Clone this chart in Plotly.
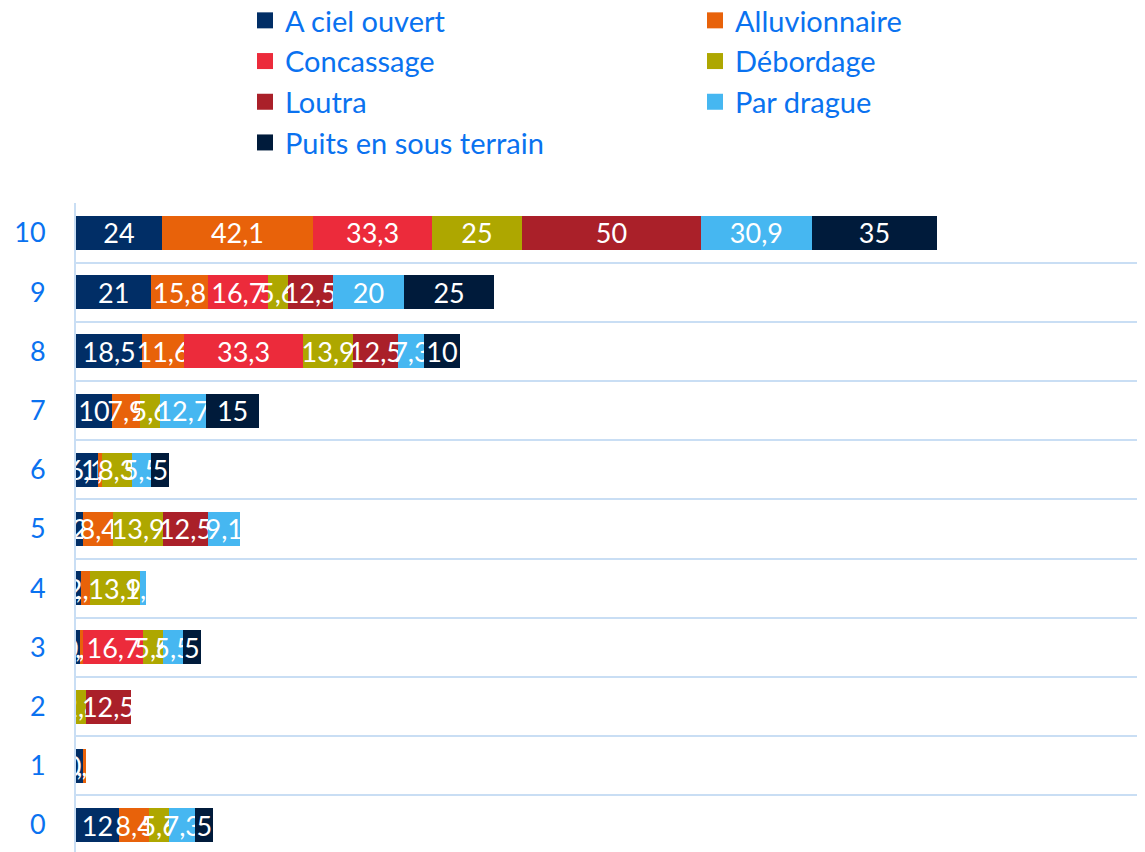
import plotly.graph_objects as go

categories = [0, 1, 2, 3, 4, 5, 6, 7, 8, 9, 10]

series_names = ["A ciel ouvert", "Alluvionnaire", "Concassage", "Débordage",
                "Loutra", "Par drague", "Puits en sous terrain"]

a_ciel_ouvert = [12, 1.9, None, 1.1, 1.4, 2, 6.1, 10, 18.5, 21, 24]
alluvionnaire = [8.4, 0.9, None, 0.9, 2.5, 8.4, 1.1, 7.9, 11.6, 15.8, 42.1]
concassage = [None, None, None, 16.7, None, None, None, None, 33.3, 16.7, 33.3]
debordage = [5.6, None, 2.8, 5.6, 13.9, 13.9, 8.3, 5.6, 13.9, 5.6, 25]
loutra = [None, None, 12.5, None, None, 12.5, None, None, 12.5, 12.5, 50]
par_drague = [7.3, None, None, 5.5, 1.8, 9.1, 5.5, 12.7, 7.3, 20, 30.9]
puits = [5, None, None, 5, None, None, 5, 15, 10, 25, 35]

colors = ["#012e66", "#e8620a", "#ec2b3b", "#aea700", "#aa2029", "#46b7f1", "#001b3b"]

values = [a_ciel_ouvert, alluvionnaire, concassage, debordage, loutra, par_drague, puits]

def fmt(v):
    if v is None:
        return ""
    return ("%g" % v).replace(".", ",")

fig = go.Figure()
for name, vals, col in zip(series_names, values, colors):
    fig.add_trace(go.Bar(
        y=categories, x=vals, orientation="h", name=name,
        marker=dict(color=col, line=dict(width=0)),
        text=[fmt(v) for v in vals], textposition="inside",
        insidetextanchor="middle", textangle=0, constraintext="none",
        textfont=dict(color="white", size=27, family="Lato"),
        showlegend=False, cliponaxis=False,
    ))
# legend entries with square markers
for name, col in zip(series_names, colors):
    fig.add_trace(go.Scatter(
        x=[None], y=[None], mode="markers", name=name,
        marker=dict(symbol="square", size=16, color=col),
        showlegend=True,
    ))

W, H = 1137, 844
fig.update_layout(
    barmode="stack",
    bargap=0.425,
    width=W, height=H,
    margin=dict(l=68, r=0, t=195, b=0, autoexpand=False),
    plot_bgcolor="white", paper_bgcolor="white",
    uniformtext=dict(mode="show", minsize=27),
    legend=dict(
        orientation="h", x=237 / W, xanchor="left", xref="container",
        y=1 + (195 + 13) / 649, yanchor="top", yref="paper",
        entrywidth=405, entrywidthmode="pixels",
        font=dict(size=29, color="#0a72f0", family="Lato"),
        itemwidth=30, traceorder="normal",
    ),
    xaxis=dict(range=[0, 298.3], showticklabels=False, showgrid=False,
               zeroline=False, showline=False, automargin=False),
    yaxis=dict(
        range=[-0.456, 10.505], tickvals=categories,
        ticktext=[str(c) for c in categories],
        tickfont=dict(size=27, color="#0a72f0", family="Lato"),
        showgrid=False, zeroline=False, automargin=False,
        showline=True, linecolor="#c9def4", linewidth=2,
        ticks="", ticklabelstandoff=23,
        minor=dict(tickvals=[c + 0.5 for c in range(-1, 11)], showgrid=True,
                   gridcolor="#c9def4", gridwidth=2),
    ),
)

fig.write_html("out.html")
